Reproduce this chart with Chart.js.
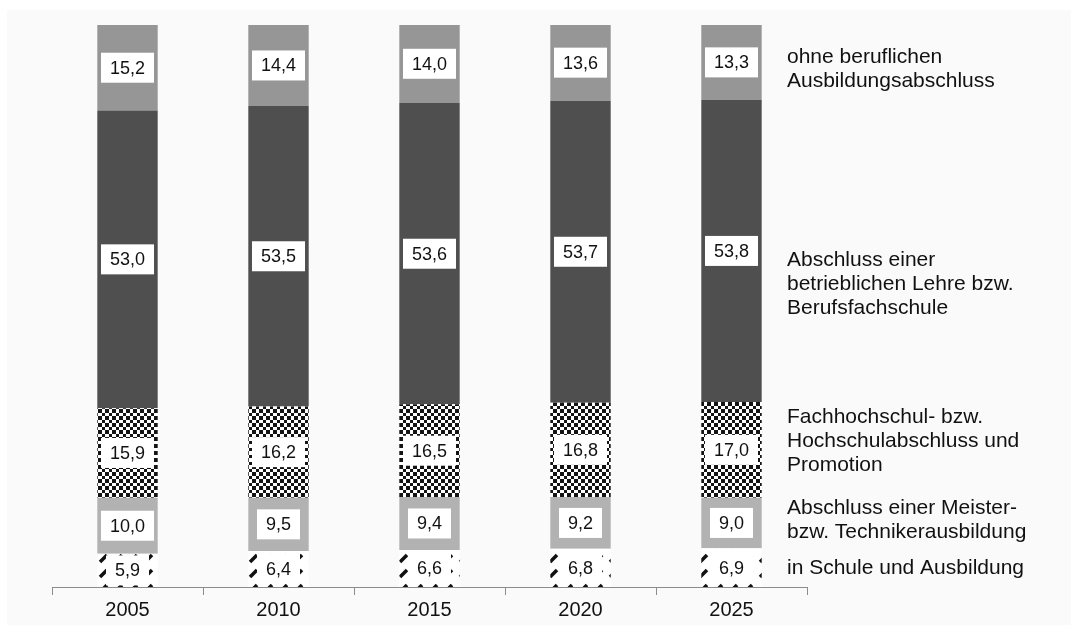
<!DOCTYPE html>
<html lang="de">
<head>
<meta charset="utf-8">
<script src="https://cdn.jsdelivr.net/npm/chart.js@4"></script>
<style>
    body { margin: 0; background: #ffffff; }
    #box { position: absolute; left: 7px; top: 10px; width: 1064px; height: 615px; background: #fafafa; }
</style>
</head>
<body>
<div id="box"><canvas id="grafico" width="1064" height="615"></canvas></div>
<script>
// Dados do gráfico (Anteile in %)
const jahre = ['2005', '2010', '2015', '2020', '2025'];
const inSchule = [5.9, 6.4, 6.6, 6.8, 6.9];
const meister = [10.0, 9.5, 9.4, 9.2, 9.0];
const hochschule = [15.9, 16.2, 16.5, 16.8, 17.0];
const lehre = [53.0, 53.5, 53.6, 53.7, 53.8];
const ohneAbschluss = [15.2, 14.4, 14.0, 13.6, 13.3];

const nomes = [
    ['in Schule und Ausbildung'],
    ['Abschluss einer Meister-', 'bzw. Technikerausbildung'],
    ['Fachhochschul- bzw.', 'Hochschulabschluss und', 'Promotion'],
    ['Abschluss einer', 'betrieblichen Lehre bzw.', 'Berufsfachschule'],
    ['ohne beruflichen', 'Ausbildungsabschluss']
];

const fonte = '"Liberation Sans", Arial, sans-serif';

// Função para formatar números com vírgula
function formatarNumero(numero) {
    return numero.toFixed(1).replace('.', ',');
}

// padrões de preenchimento
function padraoXadrez() {
    const c = document.createElement('canvas');
    c.width = 7; c.height = 7;
    const g = c.getContext('2d');
    g.fillStyle = '#ffffff';
    g.fillRect(0, 0, 7, 7);
    g.fillStyle = '#141414';
    g.fillRect(0, 0, 4, 4);
    g.fillRect(4, 4, 3, 3);
    return g.createPattern(c, 'repeat');
}

function padraoDiagonal() {
    const c = document.createElement('canvas');
    c.width = 15; c.height = 15;
    const g = c.getContext('2d');
    g.fillStyle = '#ffffff';
    g.fillRect(0, 0, 15, 15);
    g.strokeStyle = '#111111';
    g.lineWidth = 3.5;
    g.beginPath();
    g.moveTo(3, 12); g.lineTo(10, 5);
    g.stroke();
    return g.createPattern(c, 'repeat');
}

const ctx = document.getElementById('grafico').getContext('2d');

const rotulosBarras = {
    id: 'rotulosBarras',
    afterDatasetsDraw(chart) {
        const c = chart.ctx;
        c.save();
        c.font = '18px ' + fonte;
        c.textAlign = 'center';
        c.textBaseline = 'middle';
        chart.data.datasets.forEach((ds, i) => {
            chart.getDatasetMeta(i).data.forEach((bar, j) => {
                const txt = formatarNumero(ds.data[j]);
                const w = c.measureText(txt).width + 18;
                const cy = (bar.y + bar.base) / 2;
                c.fillStyle = '#ffffff';
                c.fillRect(bar.x - w / 2, cy - 15, w, 30);
                c.fillStyle = '#111111';
                c.fillText(txt, bar.x, cy + 1);
            });
        });
        c.restore();
    }
};

// legenda à direita das barras
const legendaLateral = {
    id: 'legendaLateral',
    afterDraw(chart, args, opts) {
        const c = chart.ctx;
        const y = chart.scales.y;
        c.save();
        c.font = '21px ' + fonte;
        c.fillStyle = '#111111';
        c.textAlign = 'left';
        c.textBaseline = 'middle';
        const x = chart.chartArea.right - 20;
        nomes.forEach((linhas, i) => {
            const cy = y.getPixelForValue(opts.posicoes[i]);
            const y0 = cy - (linhas.length - 1) * 24 / 2;
            linhas.forEach((l, k) => c.fillText(l, x, y0 + k * 24));
        });
        c.restore();
    }
};

new Chart(ctx, {
    type: 'bar',
    data: {
        labels: jahre,
        datasets: [
            { label: nomes[0].join(' '), data: inSchule, backgroundColor: padraoDiagonal() },
            { label: nomes[1].join(' '), data: meister, backgroundColor: '#b2b2b2' },
            { label: nomes[2].join(' '), data: hochschule, backgroundColor: padraoXadrez() },
            { label: nomes[3].join(' '), data: lehre, backgroundColor: '#4f4f4f' },
            { label: nomes[4].join(' '), data: ohneAbschluss, backgroundColor: '#969696' }
        ]
    },
    options: {
        responsive: false,
        animation: false,
        devicePixelRatio: 1,
        categoryPercentage: 1,
        barPercentage: 0.4,
        layout: { padding: { left: 45, right: 264, top: 15, bottom: 0 } },
        plugins: {
            legend: { display: false },
            tooltip: { enabled: false },
            legendaLateral: { posicoes: [3.4, 11.9, 26.0, 53.9, 92.2] }
        },
        scales: {
            x: {
                stacked: true,
                afterFit: (s) => { s.height = 38; },
                grid: {
                    offset: true,
                    drawOnChartArea: false,
                    drawTicks: true,
                    tickLength: 8,
                    color: '#8c8c8c'
                },
                border: { display: true, color: '#8c8c8c' },
                ticks: { color: '#111111', padding: 3, font: { family: fonte, size: 20 } }
            },
            y: {
                stacked: true,
                display: false,
                min: 0,
                max: 100
            }
        }
    },
    plugins: [rotulosBarras, legendaLateral]
});
</script>
</body>
</html>
